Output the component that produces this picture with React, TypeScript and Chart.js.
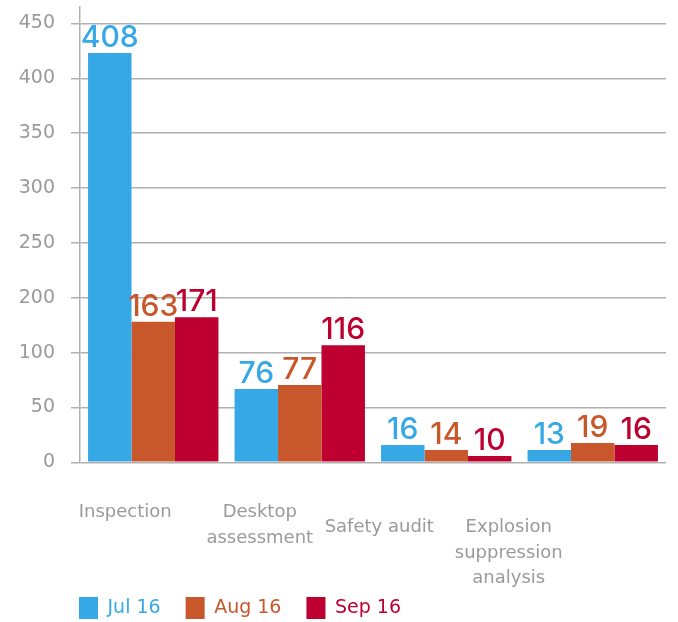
import React, { useEffect, useRef } from "react";
import { Chart, registerables } from "chart.js";

Chart.register(...registerables);

// ---- data ----
const categories: string[][] = [
  ["Inspection"],
  ["Desktop", "assessment"],
  ["Safety audit"],
  ["Explosion", "suppression", "analysis"],
];
const seriesNames = ["Jul 16", "Aug 16", "Sep 16"];
// bar heights as drawn (in axis units, gridlines every 50)
const jul = [373, 66.8, 15.8, 11.2];
const aug = [128, 70.4, 11.2, 17.6];
const sep = [132.3, 106.8, 5.7, 15.8];
// printed value labels
const julLabels = ["408", "76", "16", "13"];
const augLabels = ["163", "77", "14", "19"];
const sepLabels = ["171", "116", "10", "16"];
// y axis tick labels (as printed)
const yTickValues = [0, 50, 100, 150, 200, 250, 300, 350, 400];
const yTickLabels = ["0", "50", "100", "200", "250", "300", "350", "400", "450"];

// ---- styles ----
const COLORS = ["#37A8E6", "#C8582B", "#BE0031"];
const GRAY_TEXT = "#9a9a9a";
const GRID = "#b0b0b0";
const FONT = "'DejaVu Sans', sans-serif";
const VALUE_FONT = "500 30px Inter, 'DejaVu Sans', sans-serif";
const LABEL_DX = [-28, -40, -67, -84];
const LABEL_DY = [55, 55, 70, 70];
const LINE_H = 25.5;
const LEGEND_SHIFT = 54;

const valueLabels = [julLabels, augLabels, sepLabels];

const xLabelPlugin = {
  id: "xLabels",
  afterLayout(chart: any) {
    if (chart.legend) {
      chart.legend.left += LEGEND_SHIFT;
      chart.legend.right += LEGEND_SHIFT;
    }
  },
  afterDraw(chart: any) {
    const ctx = chart.ctx;
    const xs = chart.scales.x;
    const area = chart.chartArea;
    ctx.save();
    ctx.font = `18px ${FONT}`;
    ctx.fillStyle = GRAY_TEXT;
    ctx.textAlign = "center";
    ctx.textBaseline = "alphabetic";
    categories.forEach((lines, i) => {
      const x = xs.getPixelForValue(i) + LABEL_DX[i];
      const y0 = area.bottom + LABEL_DY[i];
      lines.forEach((l, j) => ctx.fillText(l, x, y0 + j * LINE_H));
    });
    ctx.restore();
  },
};

const valueLabelPlugin = {
  id: "valueLabels",
  afterDatasetsDraw(chart: any) {
    const ctx = chart.ctx;
    ctx.save();
    ctx.font = VALUE_FONT;
    ctx.textAlign = "center";
    ctx.textBaseline = "alphabetic";
    chart.data.datasets.forEach((ds: any, d: number) => {
      const meta = chart.getDatasetMeta(d);
      ctx.fillStyle = COLORS[d];
      meta.data.forEach((bar: any, i: number) => {
        ctx.fillText(valueLabels[d][i], bar.x, bar.y - 6);
      });
    });
    ctx.restore();
  },
};

export default function App() {
  const ref = useRef<HTMLCanvasElement>(null);
  useEffect(() => {
    if (!ref.current) return;
    const chart = new Chart(ref.current, {
      type: "bar",
      data: {
        labels: categories.map((c) => c.join(" ")),
        datasets: [jul, aug, sep].map((vals, i) => ({
          label: seriesNames[i],
          data: vals,
          backgroundColor: COLORS[i],
          borderWidth: 0,
          categoryPercentage: 0.89,
          barPercentage: 1,
        })),
      },
      options: {
        responsive: false,
        animation: false,
        layout: { padding: { left: 0, right: 12, top: 7, bottom: -7 } },
        plugins: {
          tooltip: { enabled: false },
          legend: {
            position: "bottom",
            align: "start",
            labels: {
              boxWidth: 19,
              boxHeight: 22,
              padding: 25,
              font: { family: FONT, size: 19 },
              generateLabels: (chart: any) =>
                chart.data.datasets.map((ds: any, i: number) => ({
                  text: ds.label,
                  fillStyle: COLORS[i],
                  strokeStyle: COLORS[i],
                  lineWidth: 0,
                  fontColor: COLORS[i],
                  hidden: false,
                  datasetIndex: i,
                })),
            },
          },
        },
        scales: {
          x: {
            grid: { display: false },
            border: { display: false },
            ticks: { display: false },
            afterFit: (s: any) => {
              s.height = 109.7;
              s.paddingLeft = 0;
              s.paddingRight = 0;
            },
          },
          y: {
            min: 0,
            max: 415,
            afterBuildTicks: (s: any) => {
              s.ticks = yTickValues.map((v) => ({ value: v }));
            },
            afterFit: (s: any) => {
              s.width = 80;
              s.paddingTop = 0;
              s.paddingBottom = 0;
            },
            grid: { color: GRID, lineWidth: 1.5, tickLength: 9 },
            border: { display: true, color: GRID, width: 1.5 },
            ticks: {
              padding: 16,
              color: GRAY_TEXT,
              font: { family: FONT, size: 19 },
              callback: (_v: any, i: number) => yTickLabels[i],
            },
          },
        },
      },
      plugins: [xLabelPlugin, valueLabelPlugin],
    });
    return () => chart.destroy();
  }, []);
  return (
    <div style={{ position: "fixed", left: 0, top: 0, width: 678, height: 622, background: "#fff" }}>
      <canvas ref={ref} width={678} height={622} style={{ display: "block" }} />
    </div>
  );
}
